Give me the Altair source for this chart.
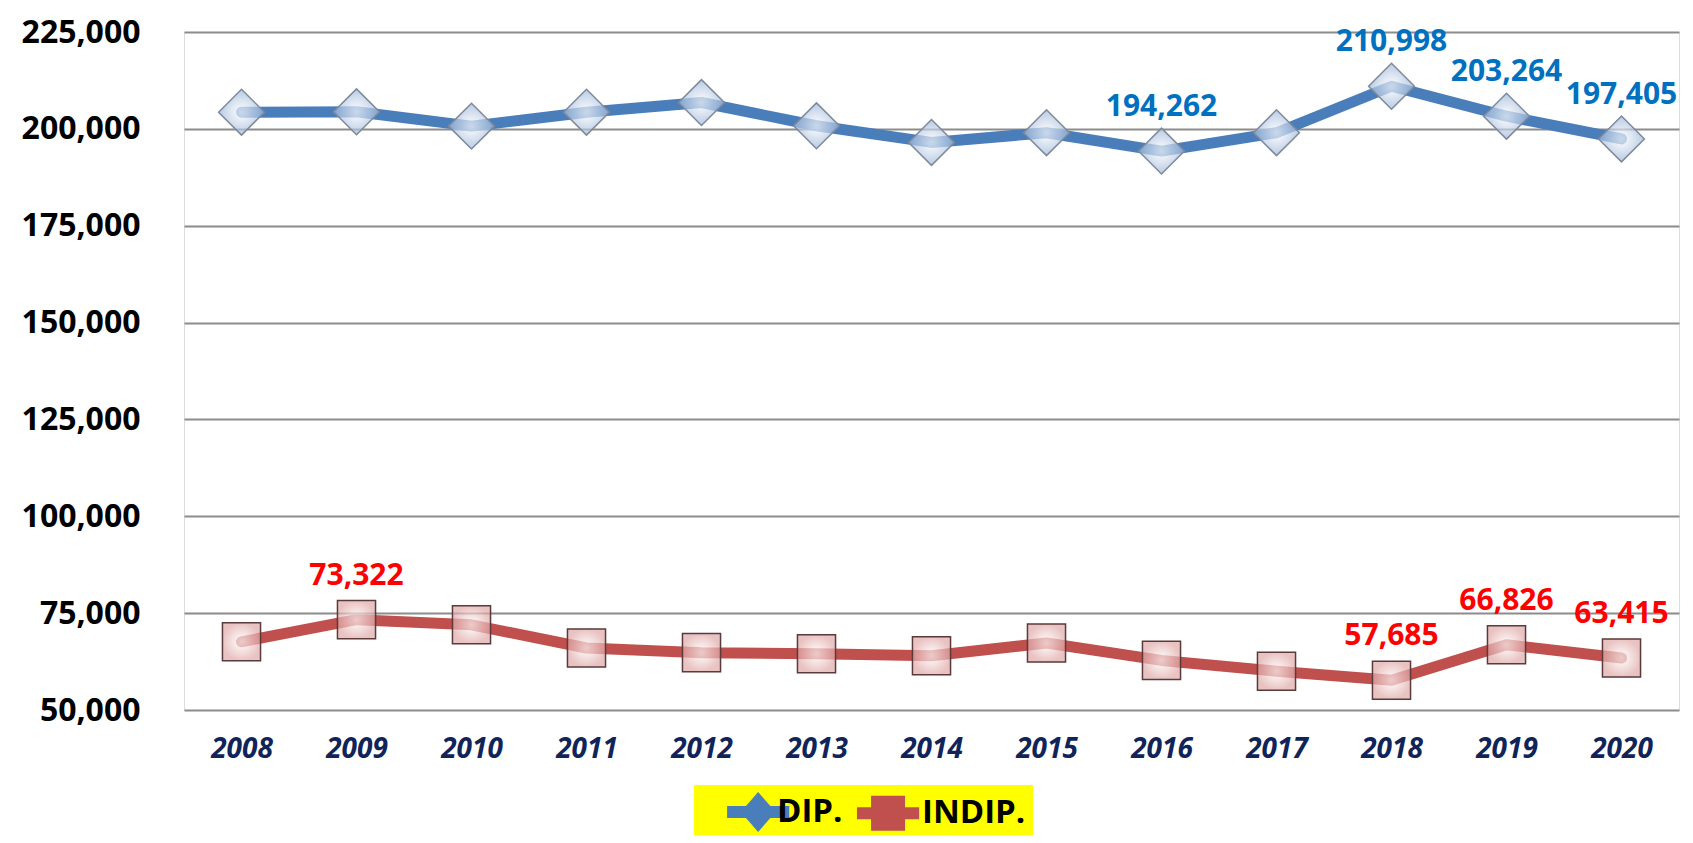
import altair as alt
import pandas as pd

years = ["2008", "2009", "2010", "2011", "2012", "2013", "2014",
         "2015", "2016", "2017", "2018", "2019", "2020"]
dip = [204300, 204400, 200700, 204300, 206800, 200800, 196500,
       199000, 194262, 199000, 210998, 203264, 197405]
indip = [67600, 73322, 72000, 66000, 64800, 64500, 64000,
         67300, 62800, 60000, 57685, 66826, 63415]
dip_show = [False, False, False, False, False, False, False,
            False, True, False, True, True, True]
indip_show = [False, True, False, False, False, False, False,
              False, False, False, True, True, True]
series_names = ["DIP.", "INDIP."]
y_ticks = [50000, 75000, 100000, 125000, 150000, 175000, 200000, 225000]

rows = []
for i, yr in enumerate(years):
    rows.append({"year": yr, "series": "DIP.", "value": dip[i],
                 "label": f"{dip[i]:,}" if dip_show[i] else ""})
    rows.append({"year": yr, "series": "INDIP.", "value": indip[i],
                 "label": f"{indip[i]:,}" if indip_show[i] else ""})
df = pd.DataFrame(rows)

FONT = "Open Sans"
BLUE = "#4A7EBB"
RED = "#C0504D"

x = alt.X("year:O", sort=years,
          scale=alt.Scale(type="point", padding=0.5),
          axis=alt.Axis(title=None, labelAngle=0, labelFont=FONT,
                        labelFontSize=28, labelFontWeight="bold",
                        labelFontStyle="italic", labelColor="#10245A",
                        labelPadding=25, ticks=False, domain=False,
                        grid=False))
y = alt.Y("value:Q",
          scale=alt.Scale(domain=[50000, 225000], nice=False, zero=False),
          axis=alt.Axis(title=None, values=y_ticks, format=",.0f",
                        labelFont=FONT, labelFontSize=32,
                        labelFontWeight="bold", labelColor="#000000",
                        labelPadding=44, ticks=False, domain=False,
                        grid=True, gridColor="#8C8C8C", gridWidth=2))

base = alt.Chart(df).encode(x=x, y=y)

line_dip = base.transform_filter(alt.datum.series == "DIP.").mark_line(
    color=BLUE, strokeWidth=11, strokeCap="round", strokeJoin="round")
line_indip = base.transform_filter(alt.datum.series == "INDIP.").mark_line(
    color=RED, strokeWidth=11, strokeCap="round", strokeJoin="round")

pts_dip = base.transform_filter(alt.datum.series == "DIP.").mark_point(
    shape="diamond", size=2100, filled=True,
    fill={"gradient": "radial",
          "stops": [{"offset": 0, "color": "#FFFFFF"},
                    {"offset": 1, "color": "#9AB4D8"}]},
    fillOpacity=0.7, stroke="#7E8A9C", strokeWidth=1.5, opacity=1)
pts_indip = base.transform_filter(alt.datum.series == "INDIP.").mark_point(
    shape="square", size=1450, filled=True,
    fill={"gradient": "radial",
          "stops": [{"offset": 0, "color": "#FFFFFF"},
                    {"offset": 1, "color": "#E0A9A8"}]},
    fillOpacity=0.7, stroke="#5A3A3A", strokeWidth=1.5, opacity=1)

txt_dip = base.transform_filter(
    (alt.datum.series == "DIP.") & (alt.datum.label != "")).mark_text(
    dy=-44, font=FONT, fontSize=30, fontWeight="bold", color="#0070C0"
).encode(text="label:N")
txt_indip = base.transform_filter(
    (alt.datum.series == "INDIP.") & (alt.datum.label != "")).mark_text(
    dy=-44, font=FONT, fontSize=30, fontWeight="bold", color="#FF0000"
).encode(text="label:N")

# legend symbols: a bar of the series line with its marker on it
diamond_path = ("M0.29,-0.29 L3.25,-0.29 L3.25,0.29 L0.29,0.29 Z "
                "M1.77,-0.95 L2.60,0 L1.77,0.95 L0.94,0 Z")
square_path = ("M-0.43,-0.29 L2.53,-0.29 L2.53,0.29 L-0.43,0.29 Z "
               "M0.24,-0.83 L1.86,-0.83 L1.86,0.83 L0.24,0.83 Z")

legend = alt.Legend(title=None, orient="none", legendX=510, legendY=753,
                    direction="horizontal", fillColor="#FFFF00",
                    padding=6, symbolSize=1764, symbolOpacity=1,
                    symbolStrokeWidth=0, labelFont=FONT, labelFontSize=33,
                    labelFontWeight="bold", labelColor="#000000",
                    labelOffset=35, columnPadding=2, strokeColor="#FFFF00")

helper = base.mark_point(filled=True, opacity=0).encode(
    color=alt.Color("series:N", sort=series_names,
                    scale=alt.Scale(domain=series_names, range=[BLUE, RED]),
                    legend=legend),
    shape=alt.Shape("series:N", sort=series_names,
                    scale=alt.Scale(domain=series_names,
                                    range=[diamond_path, square_path]),
                    legend=legend),
)

chart = alt.layer(
    line_dip, line_indip, pts_dip, pts_indip, txt_dip, txt_indip, helper
).properties(
    width=1495, height=678,
    autosize=alt.AutoSizeParams(type="none"),
    padding={"left": 176, "top": 24, "right": 6, "bottom": 125},
).configure_view(stroke=None).configure(background="#FFFFFF")

chart.save("out.html", embed_options={"renderer": "svg", "actions": False})
